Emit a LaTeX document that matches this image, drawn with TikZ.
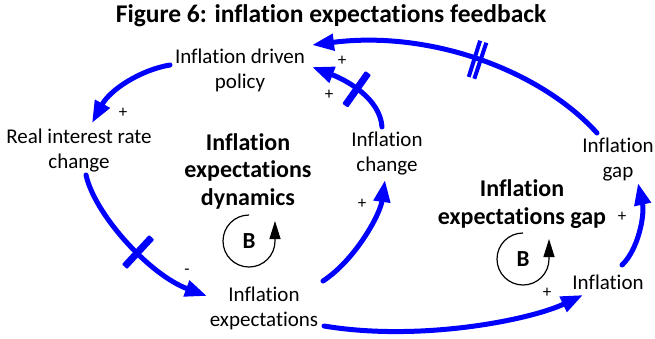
\documentclass[tikz,border=0pt]{standalone}
\usepackage{fontspec}
\setmainfont{Carlito}[Ligatures=NoCommon]
\usetikzlibrary{arrows.meta}
\definecolor{cldblue}{RGB}{0,0,255}
\begin{document}
\begin{tikzpicture}[x=1pt,y=-1pt,
  var/.style={align=center,inner sep=0pt,font=\fontsize{21}{25}\selectfont},
  looplbl/.style={align=center,inner sep=0pt,font=\fontsize{24}{27.5}\selectfont\bfseries},
  titlefont/.style={inner sep=0pt,font=\fontsize{25.5}{30}\selectfont\bfseries},
  link/.style={draw=cldblue,line width=5pt,line cap=round,-{Triangle[length=22pt,width=16pt]}},
  sign/.style={inner sep=0pt,font=\fontsize{17}{17}\selectfont},
  delaybar/.style={fill=cldblue,inner sep=0pt,minimum width=7pt,minimum height=40pt,sloped,allow upside down,rounded corners=1pt},
  thinbar/.style={fill=cldblue,inner sep=0pt,minimum width=4pt,minimum height=38pt,sloped,allow upside down},
  loopcirc/.style={draw=black,line width=1.2pt,-{Triangle[length=18pt,width=11pt]}},
  loopB/.style={inner sep=0pt,font=\fontsize{23}{23}\selectfont\bfseries},
]
\useasboundingbox (0,0) rectangle (655,338);

\node[titlefont] (title) at (331,16) {Figure 6: inflation expectations feedback};

\node[var] (pol) at (240,70) {Inflation driven\\policy};
\node[var] (ric) at (79,151) {Real interest rate\\change};
\node[var] (ie) at (264,308) {Inflation\\expectations};
\node[var] (ic) at (387,154) {Inflation\\change};
\node[var] (ig) at (618,160) {Inflation\\gap};
\node[var] (inf) at (608,282) {Inflation};

\node[looplbl] (l1) at (248,171) {Inflation\\expectations\\dynamics};
\node[looplbl] (l2) at (522,204) {Inflation\\expectations gap};

% connectors
\draw[link] ([shift={(-70,-5)}]pol.center) .. controls +(-30,5) and +(18,-33) .. ([shift={(13,-28)}]ric.center);
\draw[link] ([shift={(7,24)}]ric.center) .. controls +(9,40) and +(-57,-21) .. ([shift={(-57,-12)}]ie.center)
  node[delaybar,pos=0.57] (d1) {};
\draw[link] ([shift={(59,-27)}]ie.center) .. controls +(32,-21) and +(-5,35) .. ([shift={(-2,26)}]ic.center);
\draw[link] ([shift={(-5,-27)}]ic.center) .. controls +(-2,-29) and +(34,13) .. ([shift={(72,-3)}]pol.center)
  node[delaybar,pos=0.53] (d2) {};
\draw[link] ([shift={(-21,-27)}]ig.center) .. controls +(-57,-63) and +(118,-15) .. ([shift={(72,-25)}]pol.center)
  node[thinbar,pos=0.49] (d3a) {} node[thinbar,pos=0.51] (d3b) {};
\draw[link] ([shift={(60,18)}]ie.center) .. controls +(96,16) and +(-53,25) .. ([shift={(-25,13)}]inf.center);
\draw[link] ([shift={(14,-17)}]inf.center) .. controls +(16,-15) and +(7,32) .. ([shift={(20,23)}]ig.center);

% polarity signs
\node[sign] (s1) at (123,113) {+};
\node[sign] (s2) at (187,272) {-};
\node[sign] (s3) at (362,204) {+};
\node[sign] (s4) at (329,95) {+};
\node[sign] (s5) at (342,61) {+};
\node[sign] (s6) at (547,293) {+};
\node[sign] (s7) at (622,217) {+};

% loop markers
\node[loopB] (b1) at (249,241) {B};
\draw[loopcirc] ([shift={(0,-26)}]b1.center) arc[start angle=270,end angle=0,radius=26] -- ++(0,-20);
\node[loopB] (b2) at (523,259) {B};
\draw[loopcirc] ([shift={(0,-26)}]b2.center) arc[start angle=270,end angle=0,radius=26] -- ++(0,-20);
\end{tikzpicture}
\end{document}
